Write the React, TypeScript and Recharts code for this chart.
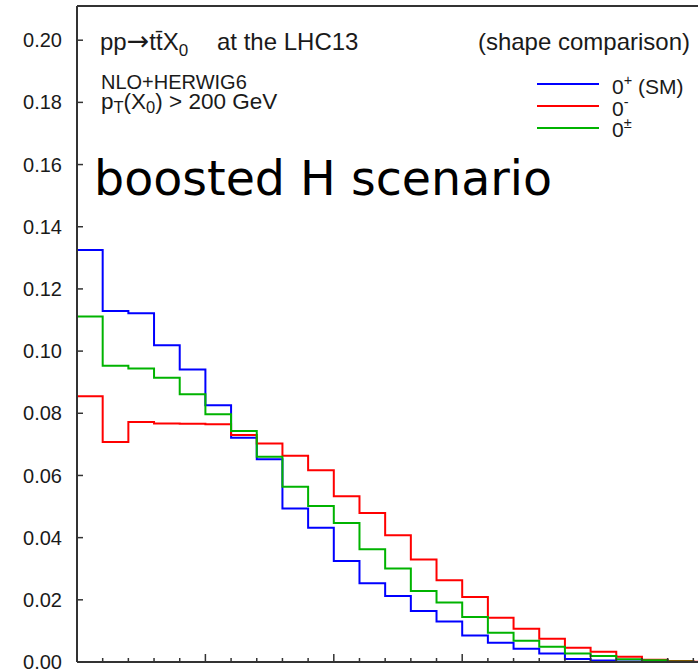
import { LineChart, Line, XAxis, YAxis, ReferenceLine } from "recharts";

// bin index along the (cropped) x axis, 25 bins
const binIndex = [0, 1, 2, 3, 4, 5, 6, 7, 8, 9, 10, 11, 12, 13, 14, 15, 16, 17, 18, 19, 20, 21, 22, 23, 24];

const evenSM = [
  0.1325, 0.1129, 0.1122, 0.1019, 0.0941, 0.0826, 0.0721, 0.0652, 0.0494, 0.0432, 0.0325, 0.0253, 0.0212,
  0.0164, 0.013, 0.0085, 0.0062, 0.0043, 0.0027, 0.001, 0.0005, 0.0002, 0.0001, 0.0, 0.0,
];
const odd = [
  0.0855, 0.0708, 0.0772, 0.0767, 0.0766, 0.0765, 0.073, 0.0703, 0.0663, 0.0617, 0.0533, 0.0479, 0.0408,
  0.033, 0.0263, 0.0209, 0.0142, 0.0107, 0.0075, 0.0046, 0.0033, 0.0017, 0.0007, 0.0003, 0.0001,
];
const mixed = [
  0.1111, 0.0953, 0.0944, 0.0914, 0.0861, 0.0797, 0.0743, 0.066, 0.0564, 0.0502, 0.0447, 0.0363, 0.0301,
  0.0228, 0.0191, 0.0145, 0.0094, 0.0068, 0.0049, 0.0027, 0.0019, 0.0009, 0.0006, 0.0002, 0.0,
];

const yTicks = [0, 0.02, 0.04, 0.06, 0.08, 0.1, 0.12, 0.14, 0.16, 0.18, 0.2];
const xTicks = [...binIndex, binIndex.length];

const series = [
  { key: "evenSM", color: "#0000ff", base: "0", sup: "+", rest: " (SM)" },
  { key: "odd", color: "#ff0000", base: "0", sup: "-", rest: "" },
  { key: "mixed", color: "#00b300", base: "0", sup: "±", rest: "" },
];

// step histogram: start at zero on the left edge, then one point per bin, closing point at the last edge
const last = binIndex.length - 1;
const rows = [
  { x: 0, evenSM: 0, odd: 0, mixed: 0 },
  ...binIndex.map((i) => ({ x: i, evenSM: evenSM[i], odd: odd[i], mixed: mixed[i] })),
  { x: binIndex.length, evenSM: evenSM[last], odd: odd[last], mixed: mixed[last] },
];

const AXIS = "#333333";
const TEXT = "#1a1a1a";
const SANS = "'Liberation Sans', Arial, Helvetica, sans-serif";
const DEJAVU = "'DejaVu Sans', Verdana, sans-serif";

function XTick(props: any) {
  const { x, y, payload } = props;
  const len = payload.value % 5 === 0 ? 8 : 4;
  return <line x1={x} x2={x} y1={y} y2={y - len} stroke={AXIS} strokeWidth={1.5} />;
}

export default function App() {
  return (
    <div style={{ position: "fixed", left: 0, top: 0, width: 698, height: 670, overflow: "hidden", background: "#fff" }}>
      <LineChart width={729} height={700} data={rows} margin={{ top: 6, right: 10, left: 0, bottom: 8 }}>
        <XAxis
          type="number"
          dataKey="x"
          domain={[0, binIndex.length]}
          ticks={xTicks}
          interval={0}
          height={30}
          tickSize={0}
          tickMargin={0}
          tickLine={false}
          tick={XTick}
          axisLine={{ stroke: AXIS, strokeWidth: 2 }}
        />
        <YAxis
          type="number"
          domain={[0, 0.211]}
          allowDataOverflow
          ticks={yTicks}
          interval={0}
          width={77}
          tickSize={-6}
          tickMargin={21}
          tickLine={{ stroke: AXIS, strokeWidth: 1.5 }}
          axisLine={{ stroke: AXIS, strokeWidth: 2 }}
          tick={{ fill: TEXT, fontSize: 20, fontFamily: SANS }}
          tickFormatter={(v: number) => v.toFixed(2)}
        />
        <ReferenceLine y={0.211} stroke={AXIS} strokeWidth={2} />
        {series.map((s) => (
          <Line
            key={s.key}
            type="stepAfter"
            dataKey={s.key}
            stroke={s.color}
            strokeWidth={2}
            dot={false}
            isAnimationActive={false}
          />
        ))}
      </LineChart>
      <svg
        width={698}
        height={670}
        style={{ position: "absolute", left: 0, top: 0, pointerEvents: "none" }}
        fontFamily={SANS}
        fill={TEXT}
      >
        <text x={100} y={50} fontSize={24}>
          pp
          <tspan fontFamily={DEJAVU} fontSize={27}>→</tspan>
          tt̄X
          <tspan dy={6} fontSize={17}>0</tspan>
        </text>
        <text x={217} y={50} fontSize={24}>at the LHC13</text>
        <text x={690} y={50} fontSize={24} textAnchor="end">(shape comparison)</text>
        <text x={101} y={89} fontSize={20}>NLO+HERWIG6</text>
        <text x={101} y={109} fontSize={22.5}>
          p<tspan dy={4} fontSize={16.5}>T</tspan>
          <tspan dy={-4}>(X</tspan>
          <tspan dy={4} fontSize={16.5}>0</tspan>
          <tspan dy={-4}>) &gt; 200 GeV</tspan>
        </text>
        <text x={94} y={195} fontSize={47.5} fontFamily={DEJAVU} fill="#000">
          boosted H scenario
        </text>
        {series.map((s, i) => (
          <g key={s.key}>
            <line x1={537} x2={599} y1={84 + i * 22} y2={84 + i * 22} stroke={s.color} strokeWidth={2} />
            <text x={612} y={94 + i * 21.6} fontSize={21}>
              {s.base}
              <tspan dy={-9} fontSize={14.5}>{s.sup}</tspan>
              {s.rest ? <tspan dy={9}>{s.rest}</tspan> : null}
            </text>
          </g>
        ))}
      </svg>
    </div>
  );
}
